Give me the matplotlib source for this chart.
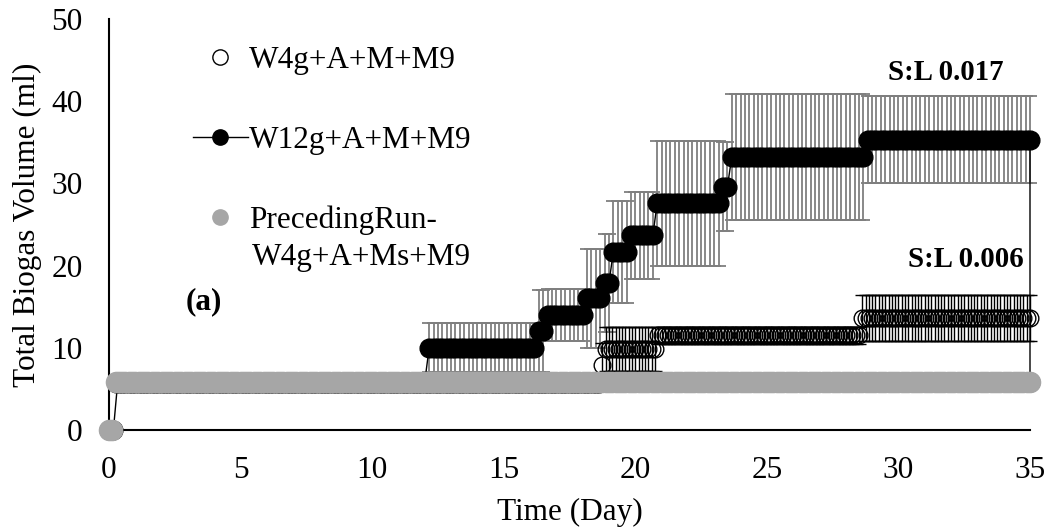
import numpy as np
import matplotlib
matplotlib.use('Agg')
import matplotlib.pyplot as plt
from matplotlib.lines import Line2D

plt.rcParams['font.family'] = ['Liberation Serif', 'DejaVu Serif']

# ---- data (step levels; readings every few hours) ----
# W12g+A+M+M9 : readings every 4 h
w12_step_day = [0.0, 0.17, 12.0, 16.33, 16.5, 18.0, 18.83, 19.0, 19.83, 20.67, 20.83, 23.17, 23.5, 28.67]
w12_step_val = [0.0, 5.9, 10.0, 12.0, 14.0, 16.0, 17.9, 21.7, 23.7, 25.8, 27.6, 29.6, 33.2, 35.3]
w12_step_err = [0.0, 0.0, 3.0, 5.0, 3.2, 6.0, 6.0, 6.2, 5.3, 5.3, 7.6, 5.4, 7.7, 5.3]
w12_final_val = 5.9
w12_interval = 1 / 6

# W4g+A+M+M9 : readings every 3 h
w4_step_day = [0.0, 0.125, 18.625, 18.75, 20.75, 28.5]
w4_step_val = [0.0, 5.6, 7.9, 9.85, 11.5, 13.6]
w4_step_err = [0.0, 0.0, 2.7, 2.7, 1.0, 2.8]
w4_interval = 1 / 8

# PrecedingRun-W4g+A+Ms+M9 : readings every 3 h
pre_step_day = [0.0, 0.125]
pre_step_val = [0.0, 5.9]
pre_interval = 1 / 8

end_day = 35.0


def sample(step_day, step_val, step_err, interval):
    t = np.arange(0, end_day + 1e-6, interval)
    idx = np.searchsorted(np.array(step_day) + 1e-6, t, side='right') - 1
    idx = np.clip(idx, 0, len(step_val) - 1)
    v = np.array(step_val)[idx]
    e = np.array(step_err)[idx] if step_err is not None else None
    return t, v, e


t12, v12, e12 = sample(w12_step_day, w12_step_val, w12_step_err, w12_interval)
t12 = np.append(t12, end_day)
v12 = np.append(v12, w12_final_val)
e12 = np.append(e12, 0.0)
t4, v4, e4 = sample(w4_step_day, w4_step_val, w4_step_err, w4_interval)
tp, vp, _ = sample(pre_step_day, pre_step_val, None, pre_interval)

fig = plt.figure(figsize=(10.45, 5.29), dpi=100)
ax = fig.add_axes([109 / 1045, 1 - 430 / 529, (1030 - 109) / 1045, (430 - 19) / 529])

FS = 22.5

# W12g error bars (grey), line and markers (black)
ax.errorbar(t12, v12, yerr=e12, fmt='none', ecolor='#7f7f7f', elinewidth=1.3,
            capsize=5, capthick=1.3, zorder=2, clip_on=False)
ax.plot(t12, v12, '-', color='black', lw=1.0, marker='o', ms=13.5,
        mfc='black', mec='black', zorder=3, clip_on=False)

# W4g error bars (black) and open markers
ax.errorbar(t4, v4, yerr=e4, fmt='none', ecolor='black', elinewidth=1.0,
            capsize=5, capthick=1.0, zorder=4, clip_on=False)
ax.plot(t4, v4, linestyle='none', marker='o', ms=12, mfc='none', mec='black',
        mew=1.0, zorder=5, clip_on=False)

# Preceding run (grey filled markers)
ax.plot(tp, vp, linestyle='none', marker='o', ms=14.5, mfc='#a6a6a6', mec='#a6a6a6',
        zorder=6, clip_on=False)

ax.set_xlim(0, 35)
ax.set_ylim(0, 50)
ax.set_xticks([0, 5, 10, 15, 20, 25, 30, 35])
ax.set_yticks([0, 10, 20, 30, 40, 50])
ax.tick_params(length=0, labelsize=FS, pad=19)
for s in ['top', 'right']:
    ax.spines[s].set_visible(False)
for s in ['left', 'bottom']:
    ax.spines[s].set_linewidth(1.5)
    ax.spines[s].set_zorder(1)
ax.set_xlabel('Time (Day)', fontsize=FS, labelpad=9)
ax.set_ylabel('Total Biogas Volume (ml)', fontsize=FS, labelpad=6.5)

# Legend
handles = [
    Line2D([], [], linestyle='none', marker='o', ms=11, mfc='white', mec='black', mew=1.0),
    Line2D([], [], linestyle='-', color='black', lw=1.0, marker='o', ms=11, mfc='black', mec='black'),
    Line2D([], [], linestyle='none', marker='o', ms=11, mfc='#a6a6a6', mec='#a6a6a6'),
]
labels = ['W4g+A+M+M9', 'W12g+A+M+M9', 'PrecedingRun-']
leg = ax.legend(handles, labels, loc='upper left', bbox_to_anchor=((193 - 109) / 921, (430 - 46) / 411),
                frameon=False, fontsize=FS, handlelength=1.75, handletextpad=0.05,
                labelspacing=1.62, borderpad=0, borderaxespad=0)
ax.text((252 - 109) / 921, (430 - 258) / 411, 'W4g+A+Ms+M9', transform=ax.transAxes,
        fontsize=FS, ha='left', va='center')

# Annotations
ax.text(29.62, 43.5, 'S:L 0.017', fontsize=20.8, fontweight='bold', ha='left', va='center')
ax.text(30.38, 20.7, 'S:L 0.006', fontsize=20.8, fontweight='bold', ha='left', va='center')
ax.text(2.9, 15.6, '(a)', fontsize=FS, fontweight='bold', ha='left', va='center')

fig.savefig('out.png', dpi=100)
